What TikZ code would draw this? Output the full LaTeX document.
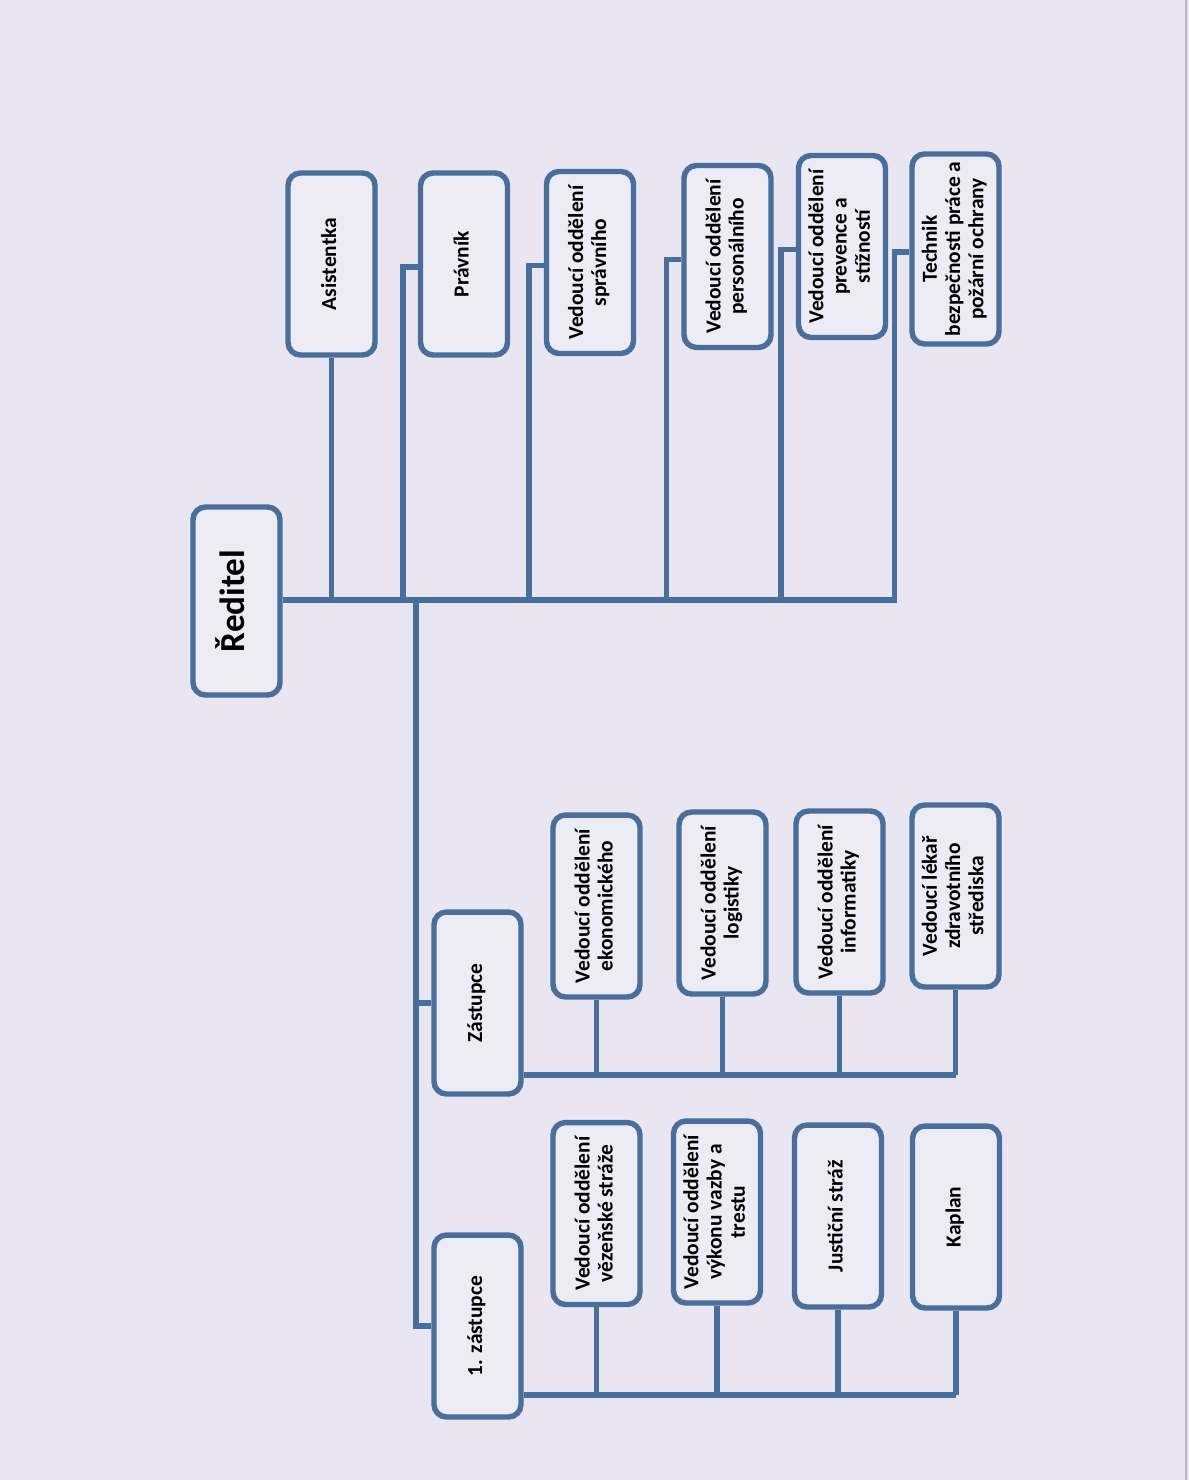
\documentclass[tikz,border=0pt]{standalone}
\usepackage{fontspec}
\setmainfont{Carlito}
\usepackage{graphicx}
\definecolor{pagebg}{RGB}{233,230,241}
\definecolor{boxfill}{RGB}{237,235,244}
\definecolor{linecol}{RGB}{74,110,156}
\tikzset{
  box/.style={draw=linecol, fill=boxfill, line width=3.1pt, rounded corners=0.25cm,
    minimum width=1.74cm, minimum height=3.64cm, inner sep=0pt,
    font=\fontsize{12.2}{13.2}\selectfont\bfseries},
  link/.style={draw=linecol, line width=3.1pt}
}
\newcommand{\up}[1]{\rotatebox{90}{\begin{tabular}{@{}c@{}}#1\end{tabular}}}
\begin{document}
\begin{tikzpicture}[x=0.02cm,y=-0.02cm]
      \fill[pagebg] (0,0) rectangle (1189,1480);
      \useasboundingbox (0,0) rectangle (1189,1480);
      \draw[gray!55, line width=1.2pt] (1186,0) -- (1186,1480);
      % director and staff
      \node[box, minimum height=3.76cm, font=\fontsize{20}{24}\selectfont\bfseries] (red) at (236.5,601) {\up{Ředitel}};
      \node[box] (asist) at (331.5,264) {\up{Asistentka}};
      \node[box] (prav) at (464,264) {\up{Právník}};
      \node[box] (sprav) at (590,262.5) {\up{Vedoucí oddělení\\správního}};
      \node[box] (pers) at (727.5,256.5) {\up{Vedoucí oddělení\\personálního}};
      \node[box] (prev) at (842,246.5) {\up{Vedoucí oddělení\\prevence a\\stížností}};
      \node[box, minimum height=3.8cm] (tech) at (955.5,249) {\up{Technik\\bezpečnosti práce a\\požární ochrany}};
      % deputies
      \node[box] (zast) at (477.5,1003) {\up{Zástupce}};
      \node[box] (zast1) at (477.5,1326) {\up{1. zástupce}};
      \node[box] (ekon) at (596.5,906) {\up{Vedoucí oddělení\\ekonomického}};
      \node[box] (logi) at (722.5,903) {\up{Vedoucí oddělení\\logistiky}};
      \node[box] (info) at (839.5,902) {\up{Vedoucí oddělení\\informatiky}};
      \node[box] (lek) at (955.5,896) {\up{Vedoucí lékař\\zdravotního\\střediska}};
      \node[box] (vez) at (596.5,1213.5) {\up{Vedoucí oddělení\\vězeňské stráže}};
      \node[box] (vyk) at (717,1212) {\up{Vedoucí oddělení\\výkonu vazby a\\trestu}};
      \node[box] (just) at (838,1216) {\up{Justiční stráž}};
      \node[box] (kap) at (956,1217) {\up{Kaplan}};
      \coordinate (bend) at (897,600);
      \coordinate (trunk) at (416,600);
      \coordinate (zb) at (0,1075);
      \coordinate (zb1) at (0,1395);
      \begin{scope}[link]
        \draw (red.east |- bend) -- (bend);
        \draw (asist.south) -- (asist.south |- bend);
        \foreach \n in {prav,sprav,pers,prev,tech}
          \draw ([yshift=-0.06cm]\n.west) -| ([xshift=-0.3cm]\n.west |- bend);
        \draw (trunk) |- (zast1.west);
        \draw (zast.west) -- (zast.west -| trunk);
        \draw (zast.east |- zb) -- (lek.south |- zb);
        \foreach \n in {ekon,logi,info,lek}
          \draw (\n.south) -- (\n.south |- zb);
        \draw (zast1.east |- zb1) -- (kap.south |- zb1);
        \foreach \n in {vez,vyk,just,kap}
          \draw (\n.south) -- (\n.south |- zb1);
      \end{scope}
    \end{tikzpicture}
\end{document}
